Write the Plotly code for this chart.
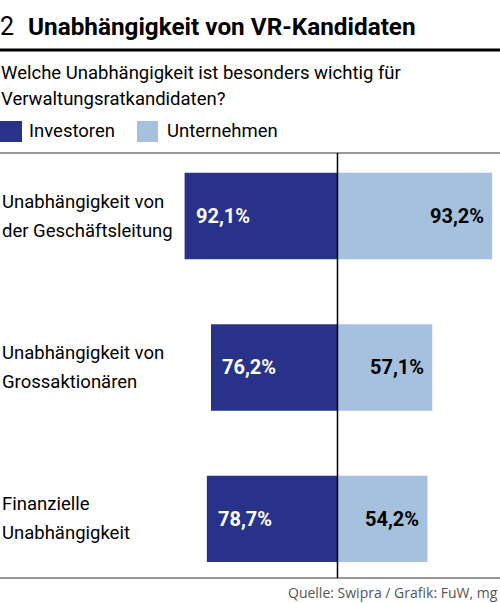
import plotly.graph_objects as go

# data
categories = [
    "Unabhängigkeit von<br>der Geschäftsleitung",
    "Unabhängigkeit von<br>Grossaktionären",
    "Finanzielle<br>Unabhängigkeit",
]
investoren = [92.1, 76.2, 78.7]
unternehmen = [93.2, 57.1, 54.2]
series_names = ["Investoren", "Unternehmen"]

DARK = "#283289"
LIGHT = "#a5c1de"
FONT = "Roboto, Liberation Sans, sans-serif"

W, H = 500, 603
PLOT_TOP, PLOT_BOTTOM = 153, 578


def py(y):
    # pixel row -> paper coordinate
    return (PLOT_BOTTOM - y) / (PLOT_BOTTOM - PLOT_TOP)


def fmt(v):
    return f"{v:.1f}".replace(".", ",") + "%"


ypos = list(range(len(categories)))

fig = go.Figure()
fig.add_trace(
    go.Bar(
        y=ypos,
        x=[-v for v in investoren],
        orientation="h",
        marker=dict(color=DARK, line=dict(width=0)),
        width=0.57,
        name=series_names[0],
        hoverinfo="skip",
    )
)
fig.add_trace(
    go.Bar(
        y=ypos,
        x=unternehmen,
        orientation="h",
        marker=dict(color=LIGHT, line=dict(width=0)),
        width=0.57,
        name=series_names[1],
        hoverinfo="skip",
    )
)

annotations = []
for i, (cat, a, b) in enumerate(zip(categories, investoren, unternehmen)):
    annotations.append(dict(
        x=-a, y=i, xref="x", yref="y", text=f"<b>{fmt(a)}</b>",
        xanchor="left", yanchor="middle", xshift=9, showarrow=False,
        font=dict(family=FONT, size=20, color="white"),
    ))
    annotations.append(dict(
        x=b, y=i, xref="x", yref="y", text=f"<b>{fmt(b)}</b>",
        xanchor="right", yanchor="middle", xshift=-6, showarrow=False,
        font=dict(family=FONT, size=20, color="black"),
    ))
    # two-line category label, lines placed separately for wider spacing
    lines = cat.split("<br>")
    for k, line in enumerate(lines):
        annotations.append(dict(
            x=0, y=i, xref="paper", yref="y", text=line,
            xanchor="left", yanchor="middle", showarrow=False,
            yshift=(len(lines) - 1) * 14.5 - k * 29,
            font=dict(family=FONT, size=18.5, color="black"),
        ))

# header texts
subtitle = ["Welche Unabhängigkeit ist besonders wichtig für",
            "Verwaltungsratkandidaten?"]
annotations += [
    dict(x=0, y=py(26), xref="paper", yref="paper", text="2", xanchor="left",
         yanchor="middle", xshift=-2, showarrow=False,
         font=dict(family=FONT, size=25, color="black")),
    dict(x=26 / W, y=py(26), xref="paper", yref="paper",
         text="<b>Unabhängigkeit von VR-Kandidaten</b>", xanchor="left",
         yanchor="middle", showarrow=False,
         font=dict(family=FONT, size=24.3, color="black")),
    dict(x=0, y=py(73), xref="paper", yref="paper", text=subtitle[0],
         xanchor="left", yanchor="middle", xshift=-1, showarrow=False,
         font=dict(family=FONT, size=18.5, color="black")),
    dict(x=0, y=py(99), xref="paper", yref="paper", text=subtitle[1],
         xanchor="left", yanchor="middle", xshift=-1, showarrow=False,
         font=dict(family=FONT, size=18.5, color="black")),
    dict(x=27 / W, y=py(131), xref="paper", yref="paper", text=series_names[0],
         xanchor="left", yanchor="middle", showarrow=False,
         font=dict(family=FONT, size=18.5, color="black")),
    dict(x=165 / W, y=py(131), xref="paper", yref="paper", text=series_names[1],
         xanchor="left", yanchor="middle", showarrow=False,
         font=dict(family=FONT, size=18.5, color="black")),
    dict(x=1, y=py(592), xref="paper", yref="paper",
         text="Quelle: Swipra / Grafik: FuW, mg", xanchor="right",
         yanchor="middle", showarrow=False,
         font=dict(family="Open Sans", size=14, color="#555555")),
]

shapes = [
    # thick rule under title
    dict(type="line", xref="paper", yref="paper", x0=0, x1=1, y0=py(50), y1=py(50),
         line=dict(color="black", width=3)),
    # legend swatches
    dict(type="rect", xref="paper", yref="paper", x0=0, x1=22 / W, y0=py(142), y1=py(121),
         fillcolor=DARK, line=dict(width=0)),
    dict(type="rect", xref="paper", yref="paper", x0=137 / W, x1=158 / W, y0=py(142),
         y1=py(121), fillcolor=LIGHT, line=dict(width=0)),
    # top and bottom frame lines
    dict(type="line", xref="paper", yref="paper", x0=0, x1=1, y0=1, y1=1,
         line=dict(color="#333333", width=1.2)),
    dict(type="line", xref="paper", yref="paper", x0=0, x1=1, y0=0, y1=0,
         line=dict(color="#333333", width=1.2)),
    # centre line
    dict(type="line", xref="x", yref="paper", x0=0, x1=0, y0=0, y1=1,
         line=dict(color="black", width=1.5), layer="above"),
]

fig.update_layout(
    width=W,
    height=H,
    barmode="overlay",
    showlegend=False,
    plot_bgcolor="white",
    paper_bgcolor="white",
    margin=dict(l=0, r=0, t=PLOT_TOP, b=H - PLOT_BOTTOM),
    xaxis=dict(range=[-203.3, 97.9], visible=False, fixedrange=True),
    yaxis=dict(range=[2.39, -0.416], visible=False, fixedrange=True),
    annotations=annotations,
    shapes=shapes,
)

# the page body has a default 8px margin; drop it so the chart fills the window
fig.write_html(
    "out.html",
    config={"displayModeBar": False},
    post_script="document.body.style.margin = '0';",
)
